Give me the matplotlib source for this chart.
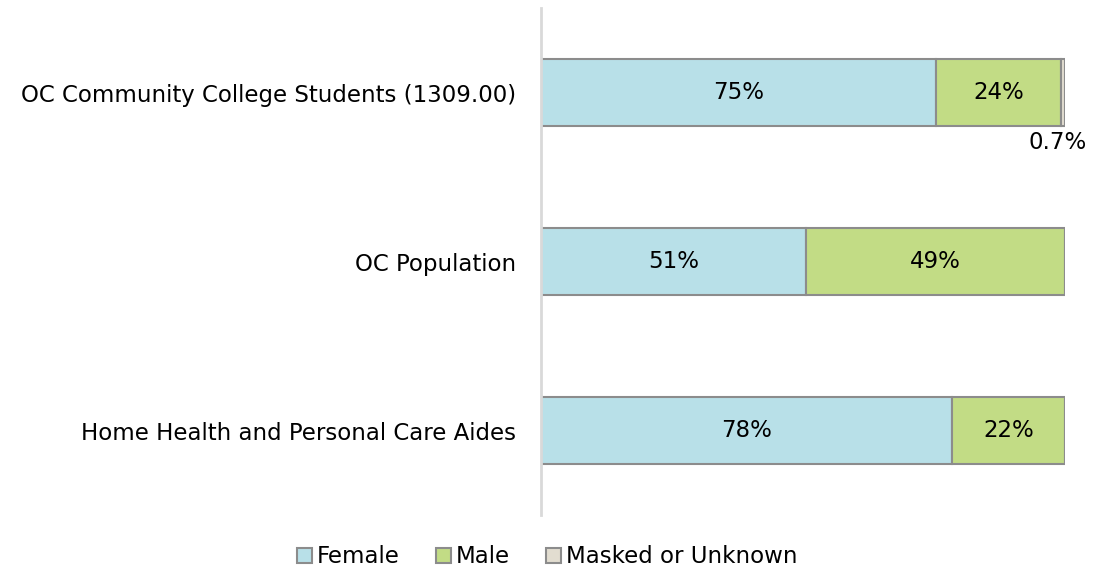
import matplotlib.pyplot as plt
import numpy as np

# data, top to bottom as in the chart
categories = ['OC Community College Students (1309.00)', 'OC Population',
              'Home Health and Personal Care Aides']
female = [75.4, 50.6, 78.4]
male = [23.9, 49.4, 21.6]
masked = [0.7, 0.0, 0.0]

series = ['Female', 'Male', 'Masked or Unknown']
colors = ['#B8E0E8', '#C2DC85', '#E2DDD0']


def fmt(v):
    return f'{v:.0f}%' if v >= 1 else f'{v:.1f}%'


fig = plt.figure(figsize=(10.94, 5.82), dpi=100)
ax = fig.add_axes([0.4945, 0.115, 0.479, 0.871])

y = np.arange(len(categories))[::-1]
left = np.zeros(len(categories))
for name, vals, col in zip(series, [female, male, masked], colors):
    vals = np.array(vals)
    ax.barh(y, vals, left=left, height=0.4, color=col, edgecolor='#8C8C8C',
            linewidth=1.5, label=name)
    for yi, l, v in zip(y, left, vals):
        if v >= 5:
            ax.text(l + v / 2, yi, fmt(v), ha='center', va='center', fontsize=16.5)
        elif v > 0:
            ax.text(l + v - 1.5, yi - 0.23, fmt(v), ha='center', va='top', fontsize=16.5)
    left += vals

ax.set_xlim(0, 100)
ax.set_ylim(-0.5, 2.5)
ax.set_yticks(y)
ax.set_yticklabels(categories, fontsize=16.5)
ax.set_xticks([])
ax.tick_params(axis='y', length=0, pad=18)
for s in ['top', 'right', 'bottom']:
    ax.spines[s].set_visible(False)
ax.spines['left'].set_color('#D9D9D9')
ax.spines['left'].set_linewidth(2)

fig.legend(loc='lower center', bbox_to_anchor=(0.5, -0.012), ncol=3, frameon=False,
           fontsize=16.5, handlelength=0.65, handleheight=0.65, handletextpad=0.2,
           columnspacing=1.6)

plt.savefig('out.png', dpi=100)
